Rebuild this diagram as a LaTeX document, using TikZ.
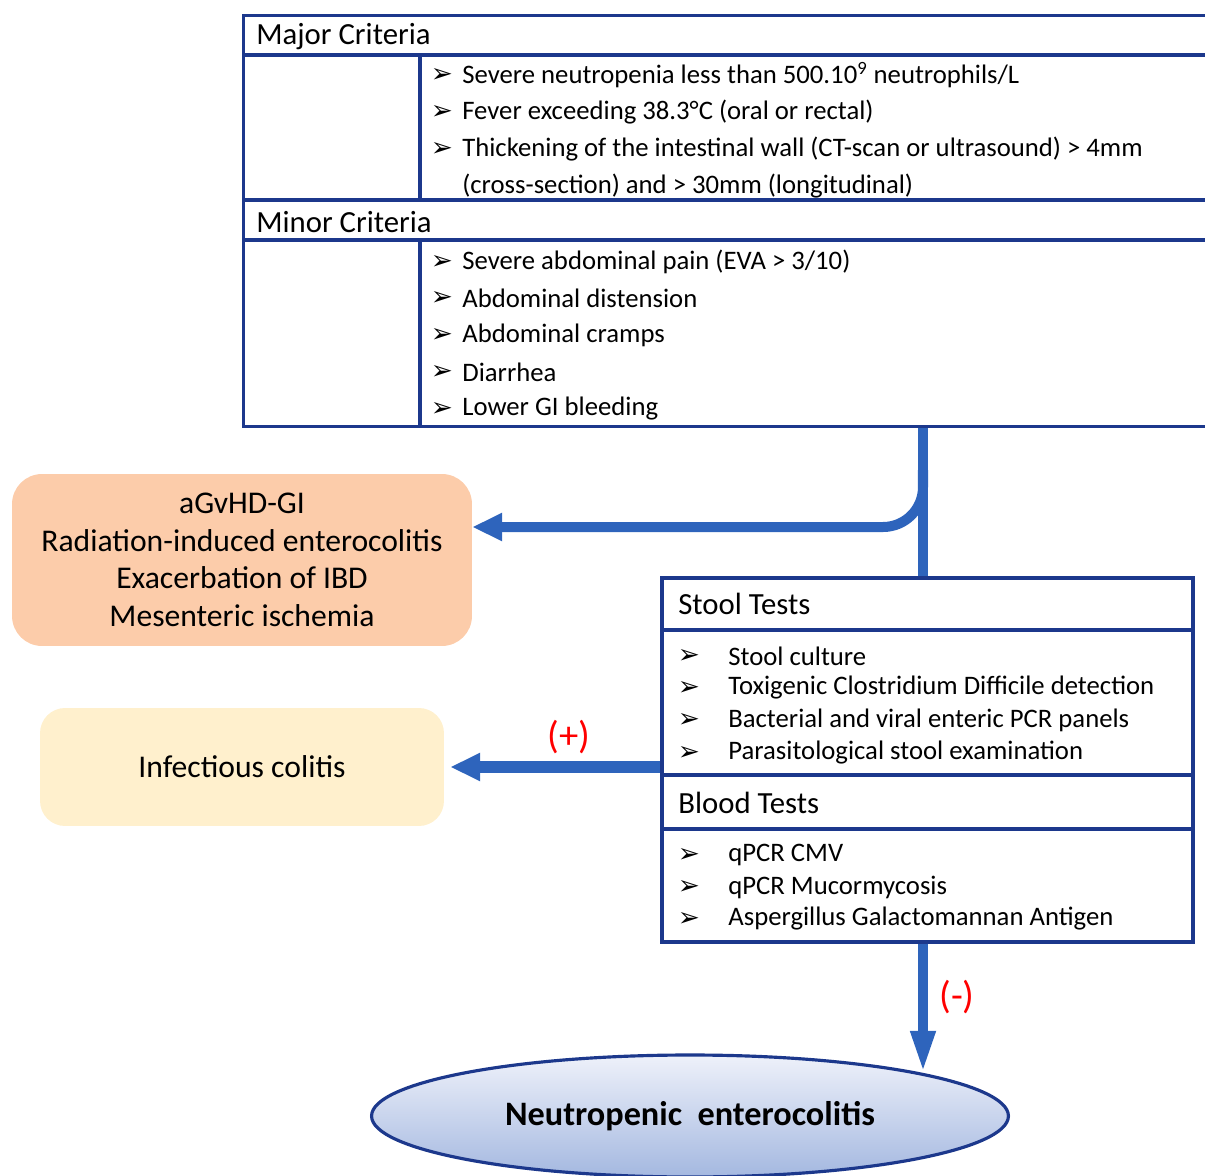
\documentclass[tikz,border=0pt]{standalone}
\usepackage{fontspec}
\setmainfont{Carlito}
\newfontfamily\bulletfont{DejaVu Sans}
\usetikzlibrary{arrows.meta,shapes.geometric,positioning}

\definecolor{navy}{RGB}{28,56,140}
\definecolor{flowblue}{RGB}{46,100,188}
\definecolor{peach}{RGB}{252,204,170}
\definecolor{cream}{RGB}{255,240,205}
\definecolor{ellTop}{RGB}{238,241,250}
\definecolor{ellBot}{RGB}{164,184,224}
\newcommand{\bul}{{\bulletfont\char"27A2}}

\begin{document}
\begin{tikzpicture}[
    x=0.02cm, y=-0.02cm,
    frame/.style={draw=navy, line width=1.8pt},
    grid line/.style={navy, line width=1.8pt},
    trunk/.style={flowblue, line width=5.7pt},
    flow/.style={flowblue, line width=5.7pt, -{Triangle[length=17pt, width=15pt]}},
    head/.style={anchor=west, inner sep=0, font=\fontsize{17.5}{20}\selectfont},
    item/.style={anchor=west, inner sep=0, font=\fontsize{15.2}{18}\selectfont},
    bulletmark/.style={inner sep=0, font=\fontsize{15}{17}\selectfont},
    sign/.style={text=red, font=\fontsize{22}{24}\selectfont},
    outcome/.style={align=center, inner sep=0, font=\fontsize{18}{21.4}\selectfont}
    ]
    \clip (0,0) rectangle (1205,1176);

    % criteria table
    \node[frame, anchor=north west, inner sep=0, minimum width=20cm, minimum height=8.22cm] (crit) at (242,14) {};
    \draw[grid line] (242,55) -- (1245,55);
    \draw[grid line] (242,200) -- (1245,200);
    \draw[grid line] (242,240) -- (1245,240);
    \draw[grid line] (420,55) -- (420,200);
    \draw[grid line] (420,240) -- (420,425);

    \node[head] (major) at (256,37) {Major Criteria};
    \node[head] (minor) at (256,222) {Minor Criteria};

    \foreach \y/\txt [count=\i] in {75/{Severe neutropenia less than 500.10\textsuperscript{9} neutrophils/L},
        112/{Fever exceeding 38.3°C (oral or rectal)},
        149/{Thickening of the intestinal wall (CT-scan or ultrasound) > 4mm}} {
        \node[bulletmark] (majb\i) at (442,\y) {\bul};
        \node[item] (maj\i) at (462,\y) {\txt};
    }
    \node[item] (maj4) at (462,186) {(cross-section) and > 30mm (longitudinal)};

    \foreach \y/\txt [count=\i] in {262/{Severe abdominal pain (EVA > 3/10)},
        298/{Abdominal distension}, 335/{Abdominal cramps},
        372/{Diarrhea}, 409/{Lower GI bleeding}} {
        \node[bulletmark] (minb\i) at (442,\y) {\bul};
        \node[item] (min\i) at (462,\y) {\txt};
    }

    % outcomes
    \node[outcome, fill=peach, rounded corners=0.6cm, minimum width=9.2cm, minimum height=3.44cm] (diff) at (242,560)
        {aGvHD-GI\\Radiation-induced enterocolitis\\Exacerbation of IBD\\Mesenteric ischemia};
    \node[outcome, fill=cream, rounded corners=0.5cm, minimum width=8.08cm, minimum height=2.36cm] (infect) at (242,767)
        {Infectious colitis};

    % tests
    \node[frame, inner sep=0, minimum width=10.62cm, minimum height=7.28cm] (stool) at (927.5,760) {};
    \draw[grid line] (stool.west |- 0,630) -- (stool.east |- 0,630);
    \draw[grid line] (stool.west |- 0,775) -- (stool.east |- 0,775);
    \draw[grid line] (stool.west |- 0,829) -- (stool.east |- 0,829);

    \node[head] (stoolh) at (678,604) {Stool Tests};
    \node[head] (bloodh) at (678,803) {Blood Tests};

    \foreach \y/\txt [count=\i] in {656/{Stool culture},
        688/{Toxigenic Clostridium Difficile detection},
        720/{Bacterial and viral enteric PCR panels},
        753/{Parasitological stool examination},
        855/{qPCR CMV}, 887/{qPCR Mucormycosis},
        919/{Aspergillus Galactomannan Antigen}} {
        \node[bulletmark] (testb\i) at (689,\y) {\bul};
        \node[item] (test\i) at (728,\y) {\txt};
    }

    % result
    \node[ellipse, draw=navy, line width=1.8pt, top color=ellTop, bottom color=ellBot,
        minimum width=12.74cm, minimum height=2.44cm,
        font=\bfseries\fontsize{19.5}{22}\selectfont] (neutro) at (690,1116) {Neutropenic\ \ enterocolitis};

    % connectors
    \coordinate (fork) at (923,470);
    \coordinate (hit) at (923,1073);
    \draw[trunk] (crit.south -| fork) -- (stool.north -| fork);
    \draw[flow, rounded corners=0.8cm] (fork) |- ([yshift=0.66cm]diff.east);
    \draw[flow, line width=6.6pt, shorten >=0.12cm] (stool.west |- infect) -- (infect.east);
    \draw[flow, -{Triangle[length=24pt, width=13pt]}] (stool.south -| fork) -- (hit);

    \node[sign] (plus) at (569,737) {(+)};
    \node[sign] (minus) at (957,997) {(-)};

\end{tikzpicture}
\end{document}
